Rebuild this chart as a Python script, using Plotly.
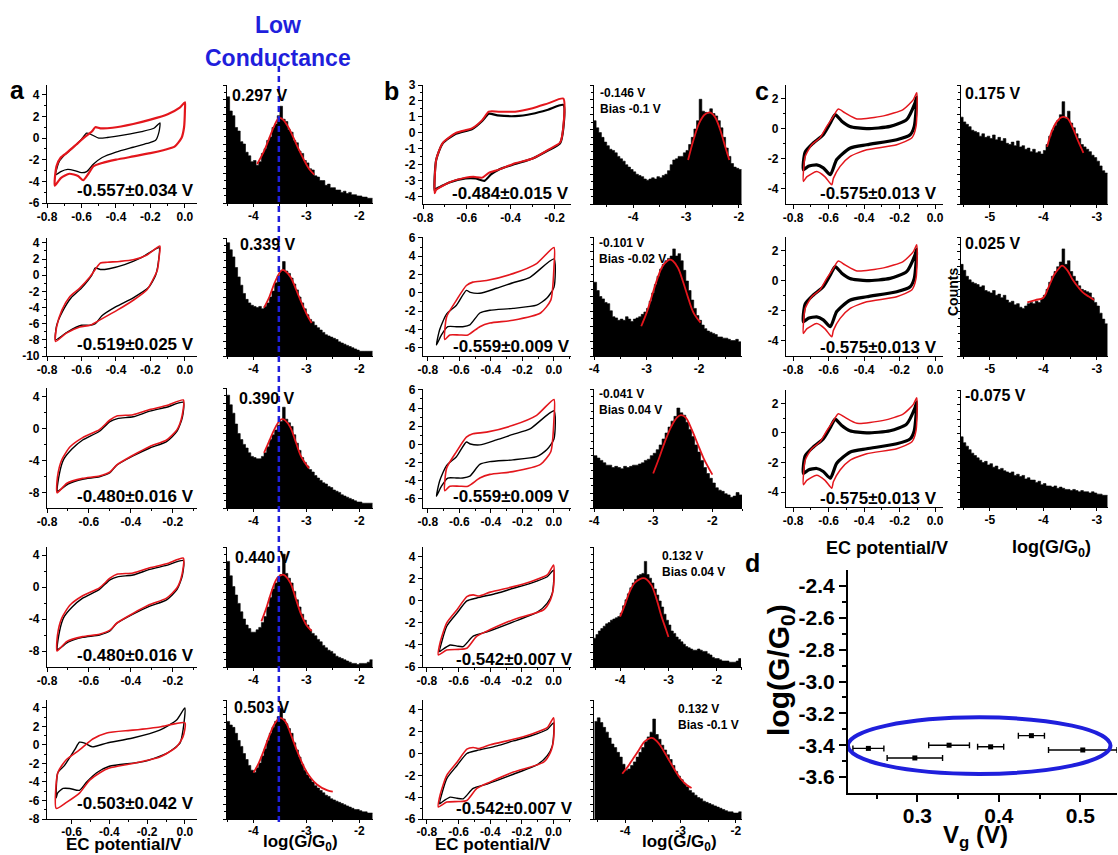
import numpy as np
import plotly.graph_objects as go

W, H = 1118, 855
RED = "#e3161c"
BLUE = "#1f1fdc"
FONT = "Liberation Sans, Arial"

# ---------------- CV data (EC potential / V, current) ----------------
A1_BLACK_X = [-0.75,-0.73,-0.70,-0.65,-0.60,-0.57,-0.54,-0.50,-0.45,-0.35,-0.25,-0.18,-0.145,
              -0.15,-0.17,-0.22,-0.30,-0.40,-0.48,-0.53,-0.57,-0.60,-0.64,-0.68,-0.72,-0.75]
A1_BLACK_Y = [-3.4,-2.2,-1.6,-0.9,-0.1,0.45,0.3,0.0,0.05,0.3,0.6,0.9,1.4,
              0.6,-0.2,-0.5,-0.85,-1.3,-1.8,-2.4,-3.1,-3.2,-3.0,-2.9,-3.1,-3.4]
A1_RED_X = [-0.755,-0.745,-0.72,-0.68,-0.63,-0.58,-0.54,-0.52,-0.49,-0.42,-0.30,-0.20,-0.10,-0.03,0.0,
            0.0,-0.005,-0.02,-0.06,-0.12,-0.20,-0.30,-0.40,-0.48,-0.53,-0.56,-0.59,-0.62,-0.67,-0.72,-0.755]
A1_RED_Y = [-4.4,-2.6,-1.8,-1.3,-0.6,0.1,0.6,1.0,0.9,0.95,1.3,1.7,2.2,2.8,3.3,
            2.6,1.0,0.0,-0.8,-1.1,-1.4,-1.7,-2.0,-2.3,-2.6,-3.3,-3.9,-3.5,-3.3,-3.7,-4.4]

A2_BLACK_X = [-0.75,-0.745,-0.71,-0.66,-0.60,-0.54,-0.52,-0.49,-0.44,-0.35,-0.25,-0.15,
              -0.155,-0.17,-0.21,-0.30,-0.40,-0.48,-0.52,-0.55,-0.60,-0.68,-0.75]
A2_BLACK_Y = [-8.0,-6.3,-4.5,-2.8,-1.6,0.0,0.9,0.7,0.8,1.3,2.2,3.4,
              1.5,0.0,-1.5,-2.8,-3.9,-5.0,-6.0,-6.2,-6.2,-7.0,-8.0]
A2_RED_X = [-0.75,-0.745,-0.713,-0.667,-0.61,-0.55,-0.49,-0.45,-0.38,-0.30,-0.22,-0.145,
            -0.15,-0.16,-0.22,-0.30,-0.39,-0.49,-0.55,-0.61,-0.69,-0.75]
A2_RED_Y = [-8.2,-6.5,-4.3,-2.65,-1.6,-0.2,1.5,1.6,1.7,1.9,2.5,3.6,
            2.2,0.65,-1.8,-3.1,-4.3,-5.5,-6.2,-6.4,-7.2,-8.2]

A3_BLACK_X = [-0.75,-0.74,-0.72,-0.68,-0.63,-0.55,-0.50,-0.46,-0.39,-0.31,-0.23,-0.15,
              -0.155,-0.18,-0.23,-0.31,-0.39,-0.47,-0.50,-0.55,-0.63,-0.70,-0.75]
A3_BLACK_Y = [-7.8,-5.5,-3.8,-2.5,-1.4,-0.3,0.9,1.3,1.5,2.2,2.7,3.3,
              1.4,-0.3,-1.6,-2.4,-3.4,-4.6,-5.5,-6.0,-6.3,-6.9,-7.8]
A3_RED_X = [-0.752,-0.75,-0.73,-0.69,-0.63,-0.55,-0.50,-0.467,-0.39,-0.31,-0.23,-0.15,
            -0.157,-0.18,-0.23,-0.31,-0.39,-0.467,-0.50,-0.55,-0.63,-0.705,-0.752]
A3_RED_Y = [-8.0,-6.0,-3.9,-2.25,-1.1,-0.1,1.1,1.6,1.75,2.4,2.9,3.6,
            1.5,-0.1,-1.4,-2.2,-3.3,-4.5,-5.4,-5.9,-6.2,-6.8,-8.0]

A5_BLACK_X = [-0.681,-0.673,-0.637,-0.584,-0.558,-0.53,-0.49,-0.414,-0.276,-0.133,-0.044,0.0,
              -0.01,-0.026,-0.096,-0.22,-0.40,-0.467,-0.52,-0.558,-0.61,-0.645,-0.674,-0.681]
A5_BLACK_Y = [-5.7,-3.0,-2.2,-0.54,0.3,0.2,-0.2,0.2,0.75,1.6,2.7,4.0,
              1.6,0.2,-0.9,-1.8,-2.3,-3.0,-4.0,-4.9,-4.7,-4.7,-5.2,-5.7]
A5_RED_X = [-0.681,-0.673,-0.628,-0.558,-0.488,-0.414,-0.276,-0.133,0.0,
            -0.01,-0.044,-0.133,-0.276,-0.40,-0.45,-0.504,-0.558,-0.627,-0.681]
A5_RED_Y = [-6.85,-3.0,-1.6,-0.54,0.65,1.3,1.6,1.95,2.4,
            0.9,-0.2,-1.3,-2.0,-2.5,-3.0,-3.8,-5.2,-6.2,-6.85]

B1_BLACK_X = [-0.747,-0.74,-0.71,-0.65,-0.575,-0.53,-0.50,-0.46,-0.38,-0.30,-0.23,-0.16,
              -0.16,-0.175,-0.23,-0.30,-0.38,-0.455,-0.49,-0.52,-0.56,-0.606,-0.68,-0.74,-0.747]
B1_BLACK_Y = [-3.6,-1.7,-0.65,-0.05,0.25,0.75,1.2,1.1,1.05,1.2,1.45,1.75,
              0.3,-0.65,-1.1,-1.6,-1.95,-2.3,-2.6,-3.0,-2.85,-2.85,-3.1,-3.5,-3.6]
B1_RED_X = [-0.747,-0.74,-0.71,-0.65,-0.575,-0.53,-0.50,-0.455,-0.38,-0.30,-0.23,-0.16,
            -0.16,-0.175,-0.23,-0.30,-0.38,-0.455,-0.50,-0.53,-0.57,-0.606,-0.68,-0.74,-0.747]
B1_RED_Y = [-3.77,-1.69,-0.63,0.0,0.3,0.8,1.33,1.33,1.33,1.55,1.85,2.15,
            0.4,-0.6,-1.06,-1.6,-1.9,-2.3,-2.5,-2.8,-2.75,-2.8,-3.1,-3.56,-3.77]

B2_BLACK_X = [-0.745,-0.724,-0.68,-0.618,-0.555,-0.53,-0.47,-0.364,-0.26,-0.152,0.0,
              0.0,-0.046,-0.11,-0.26,-0.406,-0.47,-0.533,-0.578,-0.618,-0.673,-0.713,-0.745]
B2_BLACK_Y = [-5.7,-4.0,-2.3,-1.35,0.27,0.05,-0.05,0.5,1.1,1.7,3.7,
              0.6,-0.6,-1.35,-1.7,-1.9,-2.2,-3.5,-3.7,-3.7,-3.7,-4.6,-5.7]
B2_RED_X = [-0.692,-0.68,-0.618,-0.555,-0.514,-0.427,-0.26,-0.11,0.0,
            0.0,-0.02,-0.085,-0.26,-0.406,-0.47,-0.545,-0.60,-0.66,-0.692]
B2_RED_Y = [-5.1,-2.6,-0.8,0.8,1.17,1.35,2.1,3.2,4.95,
            2.8,-0.8,-2.2,-3.0,-3.3,-3.7,-4.6,-4.6,-4.6,-5.1]

B4_BLACK_X = [-0.72,-0.675,-0.61,-0.548,-0.485,-0.357,-0.254,-0.146,-0.04,0.0,
              -0.008,-0.04,-0.10,-0.254,-0.42,-0.508,-0.571,-0.61,-0.654,-0.71,-0.72]
B4_BLACK_Y = [-4.6,-2.3,-1.1,0.0,0.27,0.7,1.15,1.6,2.2,2.8,
              0.7,-0.2,-1.0,-1.9,-2.8,-3.2,-4.15,-4.1,-4.0,-4.5,-4.6]
B4_RED_X = [-0.728,-0.717,-0.675,-0.61,-0.548,-0.508,-0.47,-0.40,-0.254,-0.146,-0.04,0.0,
            0.0,-0.02,-0.063,-0.254,-0.40,-0.485,-0.548,-0.60,-0.675,-0.728]
B4_RED_Y = [-4.9,-3.8,-2.0,-0.8,0.4,0.55,0.45,0.8,1.3,1.75,2.36,3.27,
            1.3,0.1,-0.8,-1.7,-2.6,-3.2,-4.3,-4.4,-4.45,-4.9]

C_BLACK_X = [-0.742,-0.732,-0.686,-0.63,-0.59,-0.563,-0.526,-0.48,-0.385,-0.253,-0.16,-0.113,-0.103,
             -0.117,-0.14,-0.216,-0.385,-0.48,-0.554,-0.59,-0.63,-0.667,-0.714,-0.742]
C_BLACK_Y = [-2.73,-1.55,-0.95,-0.4,0.38,0.93,0.5,0.15,0.0,0.15,0.6,1.7,2.1,
             0.15,-0.4,-0.73,-1.07,-1.3,-2.05,-3.05,-2.6,-2.4,-2.5,-2.73]
C_RED_X = [-0.742,-0.732,-0.695,-0.648,-0.61,-0.573,-0.545,-0.507,-0.44,-0.29,-0.18,-0.122,-0.103,
           -0.107,-0.13,-0.216,-0.385,-0.48,-0.535,-0.573,-0.582,-0.62,-0.667,-0.723,-0.742]
C_RED_Y = [-3.5,-1.85,-1.07,-0.6,0.15,0.82,1.3,1.05,0.65,0.85,1.27,1.93,2.38,
           0.15,-0.6,-1.07,-1.4,-1.85,-2.5,-3.3,-3.73,-3.2,-2.85,-3.2,-3.5]

# ---------------- Conductance histograms (bin width 0.05, counts in % of axis) ----------------
BIN = 0.05
HA1_START = -4.5
HA1 = [90,78,74,64,61,52,50,43,40,35,36,32,35,42,46,53,56,64,67,74,82,71,69,62,60,53,51,44,42,36,
       34,29,28,23,22,19,19,15,16,13,13,11,11,9,10,8,9,7,7,6,6,5,5,4,4]
HA2_START = -4.5
HA2 = [96,90,84,75,67,60,53,48,45,43,42,41,42,40,42,45,50,55,62,68,72,80,72,70,66,61,56,50,45,40,
       35,31,29,26,24,22,20,18,17,16,15,14,12,11,10,9,8,7,6,5,4,4,4,4,4]
HA3_START = -4.5
HA3 = [94,86,79,70,62,57,53,50,46,43,42,41,41,43,46,51,57,61,65,69,72,84,74,71,68,61,54,48,42,38,
       35,32,30,27,25,23,21,20,18,17,15,14,13,11,10,9,8,7,6,5,5,4,4,4,4]
HA4_START = -4.5
HA4 = [88,76,67,60,53,46,40,35,32,29,29,31,33,37,42,50,58,65,70,75,77,94,78,74,70,63,56,50,44,39,
       35,31,28,26,23,21,18,16,14,13,11,9,8,7,6,5,4,3,3,2,3,3,3,4,6]
HA5_START = -4.5
HA5 = [82,79,77,72,66,61,55,50,45,41,39,43,47,53,59,66,72,77,82,86,93,84,80,76,72,64,58,52,46,41,
       37,34,31,28,26,24,22,20,19,17,16,15,14,13,12,11,10,9,8,8,7,6,6,5,5]
HB1_START = -4.75
HB1 = [70,64,60,56,52,49,46,45,43,40,38,36,33,31,29,27,25,24,23,21,20,21,22,21,23,22,24,25,28,33,
       37,38,40,40,43,45,50,56,63,70,88,78,77,76,80,76,74,70,64,56,47,40,34,31,30,29]
HB2_START = -4.0
HB2 = [62,55,50,48,45,44,38,33,32,30,31,30,33,31,29,31,32,33,35,37,40,46,53,60,67,73,77,80,82,84,
       90,84,86,80,72,63,55,47,40,34,30,26,23,21,20,19,18,16,16,15,15,14,13,13,14,12]
HB3_START = -4.0
HB3 = [44,42,40,38,36,36,34,35,34,33,35,34,35,36,36,37,38,40,41,44,46,49,53,58,63,68,73,77,84,80,
       78,72,66,60,53,47,40,34,29,25,21,17,15,14,12,11,9,10,13,11]
HB4_START = -4.55
HB4 = [24,27,30,32,34,36,37,39,40,41,42,45,51,56,61,66,70,73,76,77,78,88,77,74,70,65,60,55,50,44,
       39,35,30,28,25,23,21,19,17,16,15,14,14,15,14,13,13,11,10,8,7,7,6,5,5,5,4,4,4,5,7]
HB5_START = -4.55
HB5 = [82,85,81,77,73,68,63,60,56,52,46,41,42,45,48,52,56,60,65,69,73,84,71,67,62,58,54,50,45,40,
       36,33,30,27,24,22,20,18,17,15,14,13,12,11,10,9,8,7,6,6,5,5,6]
HC1_START = -5.55
HC1 = [73,69,67,65,62,61,60,57,59,56,57,55,58,54,56,53,55,51,50,52,49,53,48,49,46,47,44,46,43,44,
       42,45,50,57,62,66,70,75,86,72,78,68,64,59,55,50,48,46,44,41,39,36,32,28,26]
HC2_START = -5.55
HC2 = [77,72,67,64,62,61,60,58,59,55,54,53,55,51,52,49,51,47,45,46,43,44,41,40,42,44,45,44,46,45,
       48,51,56,62,67,71,75,79,90,77,80,71,67,63,59,56,55,54,53,49,45,42,36,31,27]
HC3_START = -5.55
HC3 = [60,55,52,49,46,44,42,40,38,39,36,37,34,35,32,33,31,30,29,30,27,28,26,27,24,25,23,23,21,22,
       19,20,18,18,17,18,16,17,16,15,15,14,15,14,13,14,13,13,12,13,12,11,11,10,10]

# Gaussian fits (red)
FA1_X = [-3.93,-3.8,-3.7,-3.6,-3.52,-3.45,-3.35,-3.25,-3.15,-3.05,-2.95,-2.85]
FA1_Y = [33,44,55,66,72,71,65,56,46,37,29,24]
FA2_X = [-3.8,-3.7,-3.6,-3.5,-3.45,-3.4,-3.3,-3.2,-3.1,-3.0,-2.9]
FA2_Y = [41,50,62,71,73,72,67,57,46,36,28]
FA3_X = [-3.8,-3.7,-3.6,-3.5,-3.45,-3.4,-3.3,-3.2,-3.1,-3.0,-2.95]
FA3_Y = [46,56,66,73,74,73,67,55,43,36,33]
FA4_X = [-3.85,-3.75,-3.65,-3.55,-3.45,-3.4,-3.3,-3.2,-3.1,-3.0,-2.9]
FA4_Y = [38,50,64,74,77,76,70,57,44,35,30]
FA5_X = [-4.0,-3.9,-3.8,-3.7,-3.6,-3.5,-3.4,-3.3,-3.2,-3.0,-2.8,-2.6,-2.5]
FA5_Y = [39,47,58,70,80,85,82,72,60,40,29,24,23]
FB1_X = [-2.96,-2.85,-2.75,-2.65,-2.55,-2.45,-2.35,-2.25,-2.18]
FB1_Y = [37,55,68,75,77,73,62,47,37]
FB2_X = [-3.1,-3.0,-2.9,-2.8,-2.7,-2.6,-2.55,-2.5,-2.4,-2.3,-2.2,-2.1,-1.97]
FB2_Y = [25,36,50,64,75,80,81,80,74,62,48,36,28]
FB3_X = [-3.0,-2.9,-2.8,-2.7,-2.6,-2.53,-2.45,-2.35,-2.25,-2.15,-2.0]
FB3_Y = [29,42,56,68,76,78,76,66,54,42,28]
FB4_X = [-4.0,-3.9,-3.8,-3.7,-3.6,-3.52,-3.45,-3.35,-3.25,-3.15,-3.05,-3.0]
FB4_Y = [42,52,63,70,73,74,73,68,57,43,31,25]
FB5_X = [-4.05,-3.95,-3.85,-3.75,-3.65,-3.55,-3.5,-3.4,-3.3,-3.2,-3.1,-3.0,-2.9,-2.8]
FB5_Y = [38,44,51,58,65,68,68,64,57,49,41,34,29,26]
FC1_X = [-3.93,-3.85,-3.75,-3.65,-3.55,-3.45,-3.35,-3.25]
FC1_Y = [48,60,69,73,72,64,53,43]
FC2_X = [-4.3,-4.15,-4.0,-3.9,-3.8,-3.7,-3.65,-3.55,-3.45,-3.35,-3.25,-3.15,-3.05]
FC2_Y = [45,47,49,58,68,74,76,72,64,58,53,50,47]

# ---------------- Panel d ----------------
VG = [0.240, 0.297, 0.339, 0.390, 0.440, 0.503]
VG_ERR = [0.019, 0.034, 0.025, 0.016, 0.016, 0.042]
LOGG = [-3.42, -3.48, -3.40, -3.41, -3.34, -3.43]

# ---------------- Labels ----------------
CV_LABELS_A = ["-0.557±0.034 V", "-0.519±0.025 V", "-0.480±0.016 V", "-0.480±0.016 V", "-0.503±0.042 V"]
CV_LABELS_B = ["-0.484±0.015 V", "-0.559±0.009 V", "-0.559±0.009 V", "-0.542±0.007 V", "-0.542±0.007 V"]
CV_LABELS_C = ["-0.575±0.013 V"] * 3
H_LABELS_A = ["0.297 V", "0.339 V", "0.390 V", "0.440 V", "0.503 V"]
H_LABELS_B = ["-0.146 V<br>Bias -0.1 V", "-0.101 V<br>Bias -0.02 V", "-0.041 V<br>Bias 0.04 V",
              "0.132 V<br>Bias 0.04 V", "0.132 V<br>Bias -0.1 V"]
H_LABELS_C = ["0.175 V", "0.025 V", "-0.075 V"]

fig = go.Figure()
layout = {}
counter = [0]


def fmt1(v):
    return f"{v:.1f}"


def fmt0(v):
    return f"{v:g}"


def new_axes(box, xr, yr, xticks, yticks, xfmt, xminor, yminor, showy=True, lw=1.2, fs=12, tl=4, xstand=-2):
    counter[0] += 1
    n = counter[0]
    x0, y0, x1, y1 = box
    sfx = "" if n == 1 else str(n)
    tf = dict(family=FONT, size=fs, color="black", weight="bold")
    layout["xaxis" + sfx] = dict(
        domain=[x0 / W, x1 / W], anchor="y" + sfx, range=xr, showline=True, linecolor="black",
        linewidth=lw, ticks="outside", ticklen=tl, tickwidth=lw, tickcolor="black",
        tickmode="array", tickvals=xticks, ticktext=[xfmt(v) for v in xticks], tickfont=tf,
        ticklabelstandoff=xstand,
        showgrid=False, zeroline=False, fixedrange=True, automargin=False,
        minor=dict(tickmode="array", tickvals=xminor, ticks="outside", ticklen=tl * 0.55,
                   tickwidth=lw, tickcolor="black", showgrid=False))
    ya = dict(
        domain=[1 - y1 / H, 1 - y0 / H], anchor="x" + sfx, range=yr, showline=True, linecolor="black",
        linewidth=lw, ticks="outside", ticklen=tl, tickwidth=lw, tickcolor="black",
        tickmode="array", tickvals=yticks,
        showticklabels=showy, tickfont=tf, showgrid=False, zeroline=False, fixedrange=True, automargin=False,
        minor=dict(tickmode="array", tickvals=yminor, ticks="outside", ticklen=tl * 0.55,
                   tickwidth=lw, tickcolor="black", showgrid=False))
    if showy:
        ya["ticktext"] = [fmt0(v) for v in yticks]
    layout["yaxis" + sfx] = ya
    return "x" + sfx, "y" + sfx


def add_cv(box, xr, yr, xticks, yticks, bx, by, rx, ry, bw=1.4, rw=1.6, xstand=-2):
    xminor = [round(v + 0.1, 2) for v in xticks]
    yminor = [v + (yticks[1] - yticks[0]) / 2 for v in yticks]
    xa, ya = new_axes(box, xr, yr, xticks, yticks, fmt1, xminor, yminor, xstand=xstand)
    fig.add_trace(go.Scatter(x=bx, y=by, mode="lines", line=dict(color="black", width=bw, shape="spline", smoothing=0.6),
                             xaxis=xa, yaxis=ya, hoverinfo="skip"))
    fig.add_trace(go.Scatter(x=rx, y=ry, mode="lines", line=dict(color=RED, width=rw, shape="spline", smoothing=0.6),
                             xaxis=xa, yaxis=ya, hoverinfo="skip"))
    return xa


def add_hist(box, xr, xticks, start, counts, fx=None, fy=None, xstand=-2):
    xminor = [v + 0.5 for v in xticks] + [xticks[0] - 0.5]
    yt = [i * 12.5 for i in range(9)]
    xa, ya = new_axes(box, xr, [0, 100], xticks, yt, fmt0, xminor, [v + 6.25 for v in yt], showy=False, tl=3,
                      xstand=xstand)
    edges = start + BIN * np.arange(len(counts) + 1)
    yy = list(counts) + [counts[-1]]
    fig.add_trace(go.Scatter(x=edges, y=yy, mode="lines", line=dict(color="black", width=0.6, shape="hv"),
                             fill="tozeroy", fillcolor="black", xaxis=xa, yaxis=ya, hoverinfo="skip"))
    if fx is not None:
        fig.add_trace(go.Scatter(x=fx, y=fy, mode="lines", line=dict(color=RED, width=1.8, shape="spline"),
                                 xaxis=xa, yaxis=ya, hoverinfo="skip"))
    return xa


A_ROWS = [(85, 203), (238, 356), (388, 508), (547, 667), (700, 819)]
B_ROWS = [(85, 204), (237, 356), (389, 508), (547, 667), (700, 819)]
C_ROWS = [(85, 204), (237, 356), (390, 507)]
ACV, AH, BCV, BH, CCV, CH = (47, 197), (227, 373), (423, 571), (594, 742), (786, 943), (961, 1108)


def box(col, row):
    return (col[0], row[0], col[1], row[1])


XT8 = [-0.8, -0.6, -0.4, -0.2, 0.0]
# column a CVs
add_cv(box(ACV, A_ROWS[0]), [-0.8, 0.07], [-6, 4.9], XT8, [-6, -4, -2, 0, 2, 4],
       A1_BLACK_X, A1_BLACK_Y, A1_RED_X, A1_RED_Y, bw=1.3, rw=2.2)
add_cv(box(ACV, A_ROWS[1]), [-0.8, 0.07], [-10, 4.6], XT8, [-10, -8, -6, -4, -2, 0, 2, 4],
       A2_BLACK_X, A2_BLACK_Y, A2_RED_X, A2_RED_Y)
add_cv(box(ACV, A_ROWS[2]), [-0.8, -0.085], [-9.9, 5.1], XT8[:4], [-8, -4, 0, 4],
       A3_BLACK_X, A3_BLACK_Y, A3_RED_X, A3_RED_Y)
add_cv(box(ACV, A_ROWS[3]), [-0.8, -0.085], [-10, 5.0], XT8[:4], [-8, -4, 0, 4],
       A3_BLACK_X, A3_BLACK_Y, A3_RED_X, A3_RED_Y)
add_cv(box(ACV, A_ROWS[4]), [-0.73, 0.064], [-8, 4.86], XT8[1:], [-8, -6, -4, -2, 0, 2, 4],
       A5_BLACK_X, A5_BLACK_Y, A5_RED_X, A5_RED_Y, xstand=-3)

# column a histograms
HA = [(HA1_START, HA1, FA1_X, FA1_Y), (HA2_START, HA2, FA2_X, FA2_Y), (HA3_START, HA3, FA3_X, FA3_Y),
      (HA4_START, HA4, FA4_X, FA4_Y), (HA5_START, HA5, FA5_X, FA5_Y)]
a_hist_axes = []
for r, (s, c, fx, fy) in enumerate(HA):
    a_hist_axes.append(add_hist(box(AH, A_ROWS[r]), [-4.5, -1.74], [-4, -3, -2], s, c, fx, fy,
                                xstand=-3 if r == 4 else -2))

# column b CVs
add_cv(box(BCV, B_ROWS[0]), [-0.8, -0.125], [-4.45, 3.0], XT8[:4], [-4, -3, -2, -1, 0, 1, 2, 3],
       B1_BLACK_X, B1_BLACK_Y, B1_RED_X, B1_RED_Y, bw=2.2, rw=2.0)
add_cv(box(BCV, B_ROWS[1]), [-0.83, 0.108], [-6.9, 6.1], XT8, [-6, -4, -2, 0, 2, 4, 6],
       B2_BLACK_X, B2_BLACK_Y, B2_RED_X, B2_RED_Y)
add_cv(box(BCV, B_ROWS[2]), [-0.83, 0.108], [-7.0, 6.1], XT8, [-6, -4, -2, 0, 2, 4, 6],
       B2_BLACK_X, B2_BLACK_Y, B2_RED_X, B2_RED_Y)
add_cv(box(BCV, B_ROWS[3]), [-0.825, 0.11], [-6, 4.9], XT8, [-6, -4, -2, 0, 2, 4],
       B4_BLACK_X, B4_BLACK_Y, B4_RED_X, B4_RED_Y)
add_cv(box(BCV, B_ROWS[4]), [-0.825, 0.11], [-6, 4.9], XT8, [-6, -4, -2, 0, 2, 4],
       B4_BLACK_X, B4_BLACK_Y, B4_RED_X, B4_RED_Y, xstand=-3)

# column b histograms
HB = [(HB1_START, HB1, FB1_X, FB1_Y, [-4.74, -1.94]), (HB2_START, HB2, FB2_X, FB2_Y, [-4.0, -1.18]),
      (HB3_START, HB3, FB3_X, FB3_Y, [-4.0, -1.5]), (HB4_START, HB4, FB4_X, FB4_Y, [-4.54, -1.48]),
      (HB5_START, HB5, FB5_X, FB5_Y, [-4.56, -1.89])]
for r, (s, c, fx, fy, xr) in enumerate(HB):
    add_hist(box(BH, B_ROWS[r]), xr, [-4, -3, -2], s, c, fx, fy, xstand=-3 if r == 4 else -2)

# column c
for r in range(3):
    add_cv(box(CCV, C_ROWS[r]), [-0.84, 0.045], [-5, 2.9], XT8, [-4, -2, 0, 2],
           C_BLACK_X, C_BLACK_Y, C_RED_X, C_RED_Y, bw=3.2, rw=1.5)
HC = [(HC1_START, HC1, FC1_X, FC1_Y), (HC2_START, HC2, FC2_X, FC2_Y), (HC3_START, HC3, None, None)]
for r, (s, c, fx, fy) in enumerate(HC):
    add_hist(box(CH, C_ROWS[r]), [-5.54, -2.79], [-5, -4, -3], s, c, fx, fy)

# panel d
DY_TICKS = [-3.6, -3.4, -3.2, -3.0, -2.8, -2.6, -2.4]
xd, yd = new_axes((848, 570, 1117, 793), [0.215, 0.545], [-3.7, -2.3], [0.3, 0.4, 0.5],
                  DY_TICKS, fmt1, [0.25, 0.35, 0.45, 0.55],
                  [-3.5, -3.3, -3.1, -2.9, -2.7, -2.5], lw=2.2, fs=21, tl=7, xstand=-4)
nd = counter[0]
layout["yaxis" + str(nd)]["ticktext"] = [fmt1(v) for v in DY_TICKS]
fig.add_trace(go.Scatter(x=VG, y=LOGG, mode="markers", marker=dict(color="black", size=5, symbol="square"),
                         error_x=dict(type="data", array=VG_ERR, color="black", thickness=1.4, width=3),
                         xaxis=xd, yaxis=yd, hoverinfo="skip"))

fig.update_layout(**layout)

shapes = [
    dict(type="circle", xref=xd, yref=yd, x0=0.215, x1=0.537, y0=-3.58, y1=-3.225,
         line=dict(color=BLUE, width=4)),
    dict(type="line", xref=a_hist_axes[0], yref="paper", x0=-3.52, x1=-3.52, y0=1 - 822 / H, y1=1 - 63 / H,
         line=dict(color=BLUE, width=2.5, dash="6px,4px")),
]

annotations = []


def ann(text, px, py, size, xanchor="center", yanchor="middle", color="black", angle=0, align="center"):
    annotations.append(dict(text=text, x=px / W, y=1 - py / H, xref="paper", yref="paper", showarrow=False,
                            xanchor=xanchor, yanchor=yanchor, textangle=angle, align=align,
                            font=dict(family=FONT, size=size, color=color, weight="bold")))


ann("Low", 278, 25, 23, color=BLUE)
ann("Conductance", 278, 58, 23, color=BLUE)
ann("a", 17, 90, 25)
ann("b", 391, 91, 25)
ann("c", 762, 91, 25)
ann("d", 752, 563, 25)

for r, t in enumerate(CV_LABELS_A):
    ann(t, 135, [191, 345, 497, 655, 803][r], 17)
for r, t in enumerate(CV_LABELS_B):
    ann(t, [510, 511, 511, 514, 514][r], [193, 346, 497, 659, 808][r], 17)
for r, t in enumerate(CV_LABELS_C):
    ann(t, 878, [193, 347, 498][r], 17)

for r, t in enumerate(H_LABELS_A):
    ann(t, [230, 238, 237, 233, 232][r], [95, 245, 398, 557, 707][r], 16, xanchor="left")
bx_ = [598, 597, 597, 660, 676]
by_ = [84, 234, 385, 547, 700]
for r, t in enumerate(H_LABELS_B):
    ann(t, bx_[r], by_[r], 12, xanchor="left", yanchor="top", align="left")
for r, t in enumerate(H_LABELS_C):
    ann(t, 963, [93, 243, 395][r], 16, xanchor="left")
ann("Counts", 953, 292, 14, angle=-90)

ann("EC potential/V", 124, 856, 17, yanchor="bottom")
ann("log(G/G<sub>0</sub>)", 300, 856, 17, yanchor="bottom")
ann("EC potential/V", 493, 856, 17, yanchor="bottom")
ann("log(G/G<sub>0</sub>)", 679, 856, 17, yanchor="bottom")
ann("EC potential/V", 887, 548, 18)
ann("log(G/G<sub>0</sub>)", 1051, 548, 18)
ann("log(G/G<sub>0</sub>)", 780, 670, 30, angle=-90)
ann("V<sub>g</sub> (V)", 975, 836, 24)

fig.update_layout(width=W, height=H, margin=dict(l=0, r=0, t=0, b=0, pad=0, autoexpand=False), showlegend=False,
                  plot_bgcolor="white", paper_bgcolor="white", shapes=shapes, annotations=annotations)

fig.write_html("out.html", config={"displayModeBar": False},
               post_script="document.body.style.margin='0px';document.body.style.overflow='hidden';")
